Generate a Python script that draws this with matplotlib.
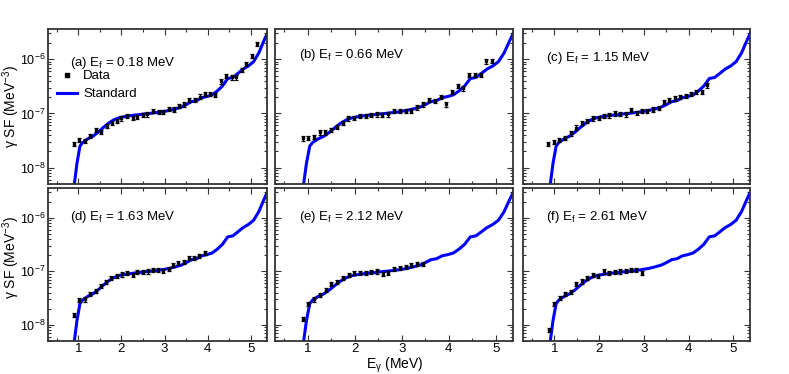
import numpy as np
import matplotlib
matplotlib.use("Agg")
import matplotlib.pyplot as plt
from matplotlib.lines import Line2D
from matplotlib.ticker import LogLocator, MultipleLocator, NullFormatter

plt.rcParams['font.family'] = ['Liberation Sans', 'DejaVu Sans']
plt.rcParams['mathtext.fontset'] = 'custom'
plt.rcParams['mathtext.rm'] = 'Liberation Sans'
plt.rcParams['mathtext.it'] = 'Liberation Sans:italic'

# ---- "Standard" curve (same in every panel)
std_e = [0.85, 0.91, 0.97, 1.04, 1.10, 1.22, 1.34, 1.46, 1.58, 1.70, 1.82, 1.94,
         2.06, 2.18, 2.30, 2.42, 2.54, 2.66, 2.78, 2.90, 3.02, 3.14, 3.26, 3.38,
         3.50, 3.62, 3.74, 3.86, 3.98, 4.10, 4.22, 4.34, 4.46, 4.58, 4.70, 4.82,
         4.94, 5.06, 5.18, 5.30, 5.40]
std_sf = [3.0e-9, 5.0e-9, 1.2e-8, 2.5e-8, 2.9e-8, 3.4e-8, 3.8e-8, 4.5e-8, 5.5e-8,
          6.6e-8, 7.6e-8, 8.3e-8, 8.7e-8, 9.0e-8, 9.3e-8, 9.5e-8, 9.8e-8, 1.0e-7,
          1.03e-7, 1.06e-7, 1.10e-7, 1.15e-7, 1.22e-7, 1.30e-7, 1.45e-7, 1.65e-7,
          1.72e-7, 1.95e-7, 2.05e-7, 2.2e-7, 2.6e-7, 3.2e-7, 4.4e-7, 4.6e-7, 5.5e-7,
          6.6e-7, 7.5e-7, 9.0e-7, 1.3e-6, 2.2e-6, 3.3e-6]

# ---- Data per final-state energy
ef_labels = ["(a) E$_{\\rm f}$ = 0.18 MeV", "(b) E$_{\\rm f}$ = 0.66 MeV",
             "(c) E$_{\\rm f}$ = 1.15 MeV", "(d) E$_{\\rm f}$ = 1.63 MeV",
             "(e) E$_{\\rm f}$ = 2.12 MeV", "(f) E$_{\\rm f}$ = 2.61 MeV"]

e_a = [0.91, 1.02, 1.16, 1.28, 1.41, 1.52, 1.66, 1.78, 1.89, 2.00, 2.14, 2.26, 2.37,
       2.49, 2.60, 2.73, 2.86, 2.97, 3.09, 3.22, 3.34, 3.45, 3.57, 3.70, 3.81, 3.93,
       4.04, 4.17, 4.30, 4.41, 4.55, 4.66, 4.78, 4.89, 5.02, 5.15]
sf_a = [2.7e-8, 3.2e-8, 3.15e-8, 3.8e-8, 4.9e-8, 4.6e-8, 5.9e-8, 6.6e-8, 7.2e-8, 8.1e-8,
        8.9e-8, 8.4e-8, 8.6e-8, 9.3e-8, 9.6e-8, 1.1e-7, 1.07e-7, 1.07e-7, 1.2e-7, 1.18e-7,
        1.36e-7, 1.47e-7, 1.8e-7, 1.8e-7, 2.05e-7, 2.3e-7, 2.3e-7, 2.2e-7, 3.9e-7, 4.9e-7,
        4.6e-7, 4.6e-7, 6.35e-7, 8.2e-7, 1.15e-6, 1.9e-6]

e_b = [0.89, 1.01, 1.13, 1.25, 1.37, 1.49, 1.62, 1.74, 1.86, 1.99, 2.11, 2.23, 2.35,
       2.47, 2.59, 2.71, 2.84, 2.96, 3.08, 3.20, 3.33, 3.45, 3.58, 3.70, 3.83, 3.95,
       4.07, 4.19, 4.31, 4.44, 4.56, 4.68, 4.80, 4.92]
sf_b = [3.45e-8, 3.55e-8, 3.7e-8, 4.45e-8, 4.45e-8, 5.0e-8, 5.7e-8, 6.7e-8, 8.1e-8, 8.4e-8,
        9.1e-8, 8.9e-8, 9.4e-8, 9.6e-8, 9.3e-8, 9.6e-8, 1.1e-7, 1.1e-7, 1.12e-7, 1.1e-7,
        1.29e-7, 1.47e-7, 1.76e-7, 1.7e-7, 2.0e-7, 1.47e-7, 2.5e-7, 3.2e-7, 2.9e-7, 5.1e-7,
        5.1e-7, 5.1e-7, 9.1e-7, 9.3e-7]

e_c = [0.86, 0.99, 1.11, 1.24, 1.37, 1.49, 1.62, 1.74, 1.86, 1.99, 2.11, 2.23, 2.35,
       2.47, 2.59, 2.72, 2.84, 2.96, 3.08, 3.20, 3.33, 3.45, 3.57, 3.69, 3.81, 3.93,
       4.05, 4.17, 4.29, 4.42]
sf_c = [2.7e-8, 2.95e-8, 3.2e-8, 3.55e-8, 4.3e-8, 5.5e-8, 6.6e-8, 7.3e-8, 8.1e-8, 8.4e-8,
        8.9e-8, 9.2e-8, 1.0e-7, 9.7e-8, 9.6e-8, 1.15e-7, 1.03e-7, 1.1e-7, 1.1e-7, 1.18e-7,
        1.27e-7, 1.64e-7, 1.76e-7, 1.9e-7, 2.0e-7, 2.1e-7, 2.3e-7, 2.5e-7, 2.5e-7, 3.3e-7]

e_d = [0.91, 1.02, 1.16, 1.28, 1.41, 1.52, 1.64, 1.77, 1.89, 2.01, 2.13, 2.26, 2.37,
       2.49, 2.61, 2.72, 2.85, 2.97, 3.09, 3.20, 3.32, 3.44, 3.57, 3.68, 3.80, 3.93]
sf_d = [1.53e-8, 2.95e-8, 3.0e-8, 3.85e-8, 4.3e-8, 5.4e-8, 6.4e-8, 7.5e-8, 8.3e-8, 8.8e-8,
        9.3e-8, 8.5e-8, 9.6e-8, 9.85e-8, 1.0e-7, 1.06e-7, 1.06e-7, 1.03e-7, 1.1e-7, 1.33e-7,
        1.45e-7, 1.52e-7, 1.76e-7, 1.8e-7, 1.97e-7, 2.2e-7]

e_e = [0.89, 1.01, 1.13, 1.26, 1.38, 1.50, 1.62, 1.74, 1.87, 1.99, 2.11, 2.23, 2.35,
       2.47, 2.60, 2.71, 2.84, 2.96, 3.09, 3.20, 3.32, 3.45]
sf_e = [1.3e-8, 2.5e-8, 3.0e-8, 3.65e-8, 4.5e-8, 5.8e-8, 6.4e-8, 7.5e-8, 8.5e-8, 9.2e-8,
        9.3e-8, 9.3e-8, 9.9e-8, 1.0e-7, 8.9e-8, 9.3e-8, 1.1e-7, 1.15e-7, 1.19e-7, 1.31e-7,
        1.37e-7, 1.37e-7]

e_f = [0.88, 1.00, 1.13, 1.24, 1.37, 1.49, 1.62, 1.74, 1.86, 1.98, 2.11, 2.23, 2.35,
       2.47, 2.59, 2.71, 2.83, 2.95]
sf_f = [8.0e-9, 2.5e-8, 3.2e-8, 3.75e-8, 4.1e-8, 5.9e-8, 6.5e-8, 7.5e-8, 8.5e-8, 8.3e-8,
        1.0e-7, 9.3e-8, 9.85e-8, 1.0e-7, 1.03e-7, 1.06e-7, 1.06e-7, 9.3e-8]

panels_e = [e_a, e_b, e_c, e_d, e_e, e_f]
panels_sf = [sf_a, sf_b, sf_c, sf_d, sf_e, sf_f]
rel_err = 0.09  # relative uncertainty of data points

# ---- layout (pixel boxes of the frames)
W, H = 789, 374
cols = [(48, 267), (275, 513), (523, 750)]
rows = [(29, 184), (188, 341)]
label_y = [0.78, 0.83, 0.81, 0.81, 0.81, 0.81]

fig = plt.figure(figsize=(W / 100, H / 100), dpi=100)

for k in range(6):
    r, c = divmod(k, 3)
    x0, x1 = cols[c]
    y0, y1 = rows[r]
    ax = fig.add_axes([x0 / W, 1 - y1 / H, (x1 - x0) / W, (y1 - y0) / H])
    ax.set_yscale('log')
    ax.set_xlim(0.3, 5.37)
    ax.set_ylim(5e-9, 3.6e-6)

    ax.plot(std_e, std_sf, color='#0000ff', lw=2.2, zorder=2)
    sf = np.array(panels_sf[k])
    ax.errorbar(panels_e[k], sf, yerr=rel_err * sf, fmt='s', color='black', ms=1.9,
                elinewidth=0.9, capsize=1.5, capthick=0.9, zorder=3)

    ax.text(0.10, label_y[k], ef_labels[k], transform=ax.transAxes, fontsize=9.5,
            va='center', ha='left')

    ax.xaxis.set_major_locator(MultipleLocator(1))
    ax.xaxis.set_minor_locator(MultipleLocator(0.5))
    ax.yaxis.set_major_locator(LogLocator(base=10, numticks=10))
    ax.yaxis.set_minor_locator(LogLocator(base=10, subs=np.arange(2, 10), numticks=10))
    ax.yaxis.set_minor_formatter(NullFormatter())
    ax.tick_params(which='both', direction='in', top=True, right=True, labelsize=9.5,
                   width=0.8, color='#333333', pad=1.5)
    ax.tick_params(axis='y', labelsize=9, pad=2)
    ax.tick_params(which='major', length=4)
    ax.tick_params(which='minor', length=2.2)
    for s in ax.spines.values():
        s.set_linewidth(1.3)
        s.set_color('#333333')

    if c != 0:
        ax.tick_params(labelleft=False)
    if r == 0:
        ax.tick_params(labelbottom=False)

    if k == 0:
        handles = [Line2D([], [], ls='none', marker='s', ms=2.2, color='black'),
                   Line2D([], [], color='#0000ff', lw=2.2)]
        ax.legend(handles, ['Data', 'Standard'], loc='upper left',
                  bbox_to_anchor=(0.04, 0.735), frameon=False, fontsize=9.5,
                  handlelength=1.5, handletextpad=0.5, labelspacing=0.45,
                  borderaxespad=0, borderpad=0)

# axis titles placed in figure pixels
ylab = 'γ SF (MeV$^{-3}$)'
fig.text(11 / W, 1 - 107 / H, ylab, rotation=90, ha='center', va='center', fontsize=10)
fig.text(11 / W, 1 - 258 / H, ylab, rotation=90, ha='center', va='center', fontsize=10)
fig.text(395 / W, 1 - 369 / H, 'E$_{\\mathrm{γ}}$ (MeV)', ha='center', va='baseline',
         fontsize=10)

fig.savefig('out.png', dpi=100)
